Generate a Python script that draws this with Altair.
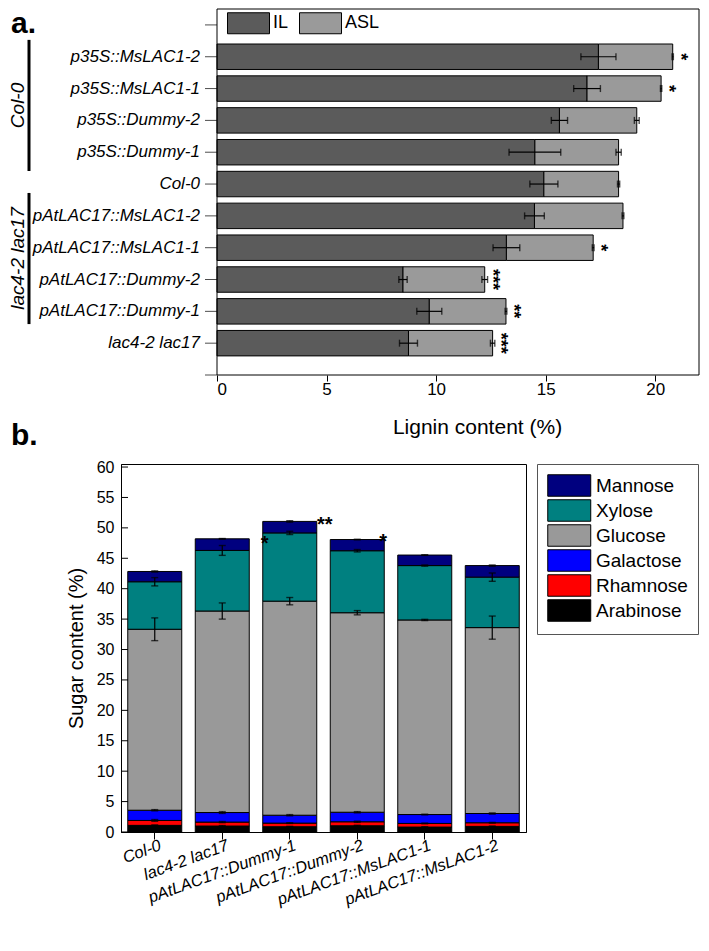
import json
import altair as alt
import pandas as pd

# ---------------- Panel a: lignin content ----------------
lines_a = ["lac4-2 lac17", "pAtLAC17::Dummy-1", "pAtLAC17::Dummy-2",
           "pAtLAC17::MsLAC1-1", "pAtLAC17::MsLAC1-2", "Col-0",
           "p35S::Dummy-1", "p35S::Dummy-2", "p35S::MsLAC1-1", "p35S::MsLAC1-2"]
il_mean = [8.74, 9.69, 8.49, 13.21, 14.49, 14.92, 14.51, 15.63, 16.89, 17.41]
il_err = [0.41, 0.57, 0.19, 0.61, 0.45, 0.64, 1.18, 0.37, 0.61, 0.80]
total_mean = [12.58, 13.19, 12.22, 17.17, 18.53, 18.33, 18.33, 19.16, 20.27, 20.80]
total_err = [0.10, 0.04, 0.13, 0.04, 0.04, 0.05, 0.12, 0.11, 0.03, 0.03]
sig_a = ["***", "**", "***", "*", "", "", "", "", "*", "*"]
lignin_types = ["IL", "ASL"]
lignin_colors = ["#5b5b5b", "#9a9a9a"]
x_ticks_a = [0, 5, 10, 15, 20]
y_ticks_a = [0, 1, 2, 3, 4, 5, 6, 7, 8, 9, 10, 11]
groups = ["Col-0", "lac4-2 lac17"]
group_from = [6.41, 1.60]
group_to = [10.53, 5.72]
panel_labels = ["a.", "b."]
XA_MAX, YA_MAX = 22, 11.5

# ---------------- Panel b: sugar content ----------------
lines_b = ["Col-0", "lac4-2 lac17", "pAtLAC17::Dummy-1", "pAtLAC17::Dummy-2",
           "pAtLAC17::MsLAC1-1", "pAtLAC17::MsLAC1-2"]
sugars = ["Mannose", "Xylose", "Glucose", "Galactose", "Rhamnose", "Arabinose"]
sugar_colors = ["#00007f", "#008080", "#999999", "#0000ff", "#ff0000", "#000000"]
stack_order = ["Arabinose", "Rhamnose", "Galactose", "Glucose", "Xylose", "Mannose"]
arabinose = [1.09, 0.98, 0.87, 1.03, 0.81, 0.92]
rhamnose = [0.81, 0.65, 0.59, 0.65, 0.60, 0.60]
galactose = [1.68, 1.57, 1.30, 1.57, 1.46, 1.52]
glucose = [29.75, 33.13, 35.19, 32.80, 31.99, 30.56]
xylose = [7.81, 9.96, 11.22, 10.19, 8.94, 8.30]
mannose = [1.69, 1.91, 1.89, 1.84, 1.73, 1.90]
arabinose_err = [0.08, 0.08, 0.06, 0.08, 0.06, 0.06]
rhamnose_err = [0.15, 0.10, 0.06, 0.10, 0.06, 0.06]
galactose_err = [0.10, 0.15, 0.10, 0.10, 0.06, 0.10]
glucose_err = [1.87, 1.33, 0.60, 0.35, 0.10, 1.90]
xylose_err = [0.68, 0.81, 0.27, 0.20, 0.10, 0.68]
mannose_err = [0.10, 0.05, 0.12, 0.05, 0.05, 0.10]
y_ticks_b = [0, 5, 10, 15, 20, 25, 30, 35, 40, 45, 50, 55, 60]
stars_b_line = ["pAtLAC17::Dummy-1", "pAtLAC17::Dummy-1", "pAtLAC17::Dummy-2"]
stars_b_sugar = ["Xylose", "Mannose", "Mannose"]
stars_b_text = ["*", "**", "*"]

FONT = "Liberation Sans"
SWATCH = "M-1,-1H3V1H-1Z"   # wide legend swatch

# ---------- build tables for panel a ----------
pos_a = list(range(1, len(lines_a) + 1))
bar_rows, il_rows, asl_rows, star_rows = [], [], [], []
for i, name in enumerate(lines_a):
    p = pos_a[i]
    bar_rows.append(dict(line=name, type="IL", x0=0.0, x1=il_mean[i], y0=p - 0.4, y1=p + 0.4))
    bar_rows.append(dict(line=name, type="ASL", x0=il_mean[i], x1=total_mean[i], y0=p - 0.4, y1=p + 0.4))
    il_rows.append(dict(pos=p, lo=il_mean[i] - il_err[i], hi=il_mean[i] + il_err[i]))
    asl_rows.append(dict(pos=p, lo=total_mean[i] - total_err[i], hi=total_mean[i] + total_err[i]))
    if sig_a[i]:
        star_rows.append(dict(pos=p, total=total_mean[i], sig=sig_a[i]))
bars_a = pd.DataFrame(bar_rows)
err_a = pd.DataFrame(il_rows + asl_rows)
caps_a = pd.concat([err_a[["pos", "lo"]].rename(columns={"lo": "v"}),
                    err_a[["pos", "hi"]].rename(columns={"hi": "v"})])
stars_a = pd.DataFrame(star_rows)
grp = pd.DataFrame({"group": groups, "start": group_from, "end": group_to})
grp["mid"] = (grp["start"] + grp["end"]) / 2
labels_a = pd.DataFrame({"line": lines_a, "pos": pos_a, "z": 0.0})
ticks_a = pd.DataFrame({"v": y_ticks_a, "z": 0.0})
frame_df = pd.DataFrame({"x0": [0.0], "x1": [XA_MAX], "y0": [0.0], "y1": [YA_MAX]})

# top panel: its plot group starts where the lower panel's y axis sits; the
# lignin frame is placed inside it through the x scale range
A_LEFT, A_RIGHT = 96, 578
axis_xa = alt.Axis(values=x_ticks_a, title="Lignin content (%)", titleFontSize=21,
                   titleFontWeight="normal", titlePadding=19, titleX=356,
                   labelFontSize=17, tickSize=6, labelPadding=0, grid=False, domain=False)
sc_xa = alt.Scale(domain=[0, XA_MAX], nice=False, zero=False, range=[A_LEFT, A_RIGHT])
sc_ya = alt.Scale(domain=[0, YA_MAX], nice=False, zero=False)


def XA(f):
    return alt.X(f, type="quantitative", scale=sc_xa, axis=axis_xa)


def YA(f):
    return alt.Y(f, type="quantitative", scale=sc_ya, axis=None)


bars_layer_a = alt.Chart(bars_a).mark_bar(stroke="black", strokeWidth=1).encode(
    x=XA("x0"), x2="x1", y=YA("y0"), y2="y1",
    color=alt.Color("type:N", scale=alt.Scale(domain=lignin_types, range=lignin_colors),
                    legend=alt.Legend(orient="none", legendX=A_LEFT + 10, legendY=3,
                                      direction="horizontal",
                                      title=None, symbolType=SWATCH, symbolSize=441,
                                      symbolStrokeColor="black", symbolStrokeWidth=1,
                                      labelFontSize=18, labelOffset=24, columnPadding=8,
                                      padding=0)))
err_rule_a = alt.Chart(err_a).mark_rule(color="black", strokeWidth=1.2).encode(
    x=XA("lo"), x2="hi", y=YA("pos"))
err_cap_a = alt.Chart(caps_a).mark_tick(color="black", orient="vertical", size=7, thickness=1.4).encode(
    x=XA("v"), y=YA("pos"))
stars_layer_a = alt.Chart(stars_a).mark_text(angle=90, dy=-7, fontSize=18, fontWeight="bold",
                                             align="center", baseline="middle", color="black").encode(
    x=XA("total"), y=YA("pos"), text="sig:N")
frame_a = alt.Chart(frame_df).mark_rect(
    fillOpacity=0, stroke="black", strokeWidth=1).encode(
    x=XA("x0"), x2="x1", y=YA("y0"), y2="y1")
yticks_layer_a = alt.Chart(ticks_a).mark_tick(color="black", orient="horizontal", size=12,
                                              thickness=1, xOffset=-6).encode(
    x=XA("z"), y=YA("v"))
ylabels_layer_a = alt.Chart(labels_a).mark_text(
    align="right", baseline="middle", dx=-17, fontSize=17, fontStyle="italic", color="black").encode(
    x=XA("z"), y=YA("pos"), text="line:N")
grp_rule = alt.Chart(grp).mark_rule(color="black", strokeWidth=3).encode(
    x=alt.value(-92), y=YA("start"), y2="end")
grp_text = alt.Chart(grp).mark_text(angle=270, fontSize=19, fontStyle="italic", align="center",
                                    baseline="middle", color="black").encode(
    x=alt.value(-103), y=YA("mid"), text="group:N")
lab_a = alt.Chart(pd.DataFrame({"t": [panel_labels[0]]})).mark_text(
    fontSize=30, fontWeight="bold", align="left", baseline="top", color="black").encode(
    x=alt.value(-110), y=alt.value(0), text="t:N")
lab_b = alt.Chart(pd.DataFrame({"t": [panel_labels[1]]})).mark_text(
    fontSize=30, fontWeight="bold", align="left", baseline="alphabetic", color="black").encode(
    x=alt.value(-110), y=alt.value(436), text="t:N")

top = alt.layer(bars_layer_a, err_rule_a, err_cap_a, stars_layer_a, frame_a, yticks_layer_a,
                ylabels_layer_a, grp_rule, grp_text, lab_a, lab_b).properties(
    width=578, height=366, view=alt.ViewBackground(stroke="transparent"))

# ---------- build tables for panel b ----------
vals = {"Arabinose": arabinose, "Rhamnose": rhamnose, "Galactose": galactose,
        "Glucose": glucose, "Xylose": xylose, "Mannose": mannose}
errs = {"Arabinose": arabinose_err, "Rhamnose": rhamnose_err, "Galactose": galactose_err,
        "Glucose": glucose_err, "Xylose": xylose_err, "Mannose": mannose_err}
rows_b, err_rows_b = [], []
tops = {}
for j, name in enumerate(lines_b):
    base = 0.0
    for s in stack_order:
        v = vals[s][j]
        rows_b.append(dict(line=name, sugar=s, y0=base, y1=base + v))
        base += v
        tops[(name, s)] = base
        err_rows_b.append(dict(line=name, lo=base - errs[s][j], hi=base + errs[s][j]))
bars_b = pd.DataFrame(rows_b)
err_b = pd.DataFrame(err_rows_b)
caps_b = pd.concat([err_b[["line", "lo"]].rename(columns={"lo": "v"}),
                    err_b[["line", "hi"]].rename(columns={"hi": "v"})])
ticks_b = pd.DataFrame({"v": y_ticks_b})
stars_b = pd.DataFrame({"line": stars_b_line, "t": stars_b_text,
                        "v": [tops[(l, s)] for l, s in zip(stars_b_line, stars_b_sugar)]})

axis_xb = alt.Axis(title=None, labelAngle=340, labelAlign="right", labelBaseline="top",
                   labelFontSize=16.5, labelFontStyle="italic", tickSize=7, labelPadding=-2,
                   labelOffset=3, labelLimit=300, grid=False)
axis_yb = alt.Axis(values=y_ticks_b, title="Sugar content (%)", titleFontSize=20,
                   titleFontWeight="normal", titlePadding=10, labelFontSize=16,
                   ticks=False, labelPadding=7, grid=False)
sc_xb = alt.Scale(domain=lines_b, paddingInner=0.2, paddingOuter=0.1)
sc_yb = alt.Scale(domain=[0, 60.5], nice=False, zero=False)


def XB():
    return alt.X("line:N", scale=sc_xb, axis=axis_xb, sort=lines_b)


def YB(f):
    return alt.Y(f, type="quantitative", scale=sc_yb, axis=axis_yb)


bars_layer_b = alt.Chart(bars_b).mark_bar(stroke="black", strokeWidth=1).encode(
    x=XB(), y=YB("y0"), y2="y1",
    color=alt.Color("sugar:N", scale=alt.Scale(domain=sugars, range=sugar_colors),
                    legend=alt.Legend(orient="right", offset=11, padding=10, title=None,
                                      strokeColor="#555555", symbolType=SWATCH,
                                      symbolSize=462, symbolStrokeColor="black",
                                      symbolStrokeWidth=1, labelFontSize=19, labelOffset=26,
                                      rowPadding=-4.5)))
err_rule_b = alt.Chart(err_b).mark_rule(color="black", strokeWidth=1.2).encode(
    x=XB(), y=YB("lo"), y2="hi")
err_cap_b = alt.Chart(caps_b).mark_tick(color="black", orient="horizontal", size=7, thickness=1.4).encode(
    x=XB(), y=YB("v"))
in_ticks = alt.Chart(ticks_b).mark_rule(color="black", strokeWidth=1).encode(
    x=alt.value(0), x2=alt.value(7), y=YB("v"))
star_layers = []
for k, (dx, dy) in enumerate([(-25, 11), (35, 4), (26, 2)]):
    star_layers.append(
        alt.Chart(stars_b.iloc[[k]]).mark_text(fontSize=20, fontWeight="bold", dx=dx, dy=dy,
                                               align="center", baseline="middle", color="black").encode(
            x=XB(), y=YB("v"), text="t:N"))

bottom = alt.layer(bars_layer_b, err_rule_b, err_cap_b, in_ticks, *star_layers).properties(
    width=405, height=368)

chart = alt.vconcat(top, bottom, spacing=6).resolve_scale(color="independent").properties(
    padding=0).configure_view(
    stroke="black", strokeWidth=1).configure_axis(
    domainColor="black", tickColor="black", labelColor="black", titleColor="black",
    labelFont=FONT, titleFont=FONT, domainWidth=1, tickWidth=1).configure_legend(
    labelFont=FONT, labelColor="black").configure_text(font=FONT)

chart.save("out.html", embed_options={"renderer": "svg", "actions": False})
